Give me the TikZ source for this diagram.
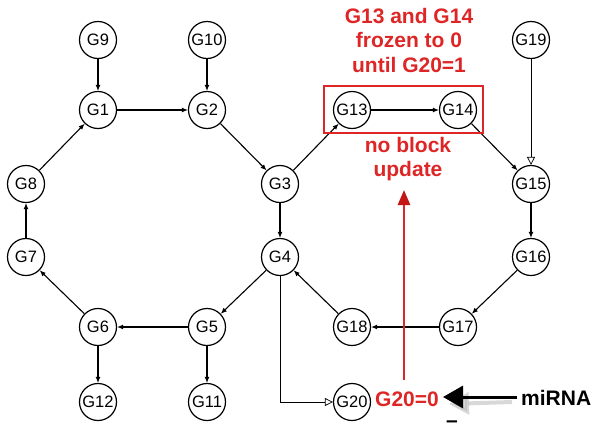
\documentclass[tikz,border=0pt]{standalone}
\usepackage{fontspec}
\setmainfont{Liberation Sans}
\usetikzlibrary{arrows.meta}
\definecolor{myred}{RGB}{222,38,38}
\definecolor{darkred}{RGB}{195,22,22}
\begin{document}
\begin{tikzpicture}[x=1pt,y=-1pt,
  gene/.style={circle,draw,line width=1.2pt,minimum size=37pt,inner sep=0pt,font=\fontsize{16.5}{17}\selectfont},
  act/.style={-{Latex[length=6pt,width=5pt]},line width=1.1pt},
  open/.style={-{Triangle[open,length=8pt,width=8pt]},line width=0.7pt},
  redtxt/.style={text=myred,font=\bfseries\fontsize{21}{24.5}\selectfont,align=center}]
\useasboundingbox (0,0) rectangle (595,429);
\node[gene] (G9) at (98,40) {G9};
\node[gene] (G10) at (207,40) {G10};
\node[gene] (G1) at (98,110) {G1};
\node[gene] (G2) at (207,110) {G2};
\node[gene] (G8) at (26,184) {G8};
\node[gene] (G3) at (280,184) {G3};
\node[gene] (G7) at (26,257) {G7};
\node[gene] (G4) at (280,257) {G4};
\node[gene] (G6) at (98,327) {G6};
\node[gene] (G5) at (207,327) {G5};
\node[gene] (G12) at (98,402) {G12};
\node[gene] (G11) at (207,402) {G11};
\node[gene] (G13) at (352,110) {G13};
\node[gene] (G14) at (458,110) {G14};
\node[gene] (G19) at (531,40) {G19};
\node[gene] (G15) at (531,184) {G15};
\node[gene] (G16) at (531,257) {G16};
\node[gene] (G17) at (458,327) {G17};
\node[gene] (G18) at (352,327) {G18};
\node[gene] (G20) at (352,402) {G20};
\draw[act] (G9) -- (G1);
\draw[act] (G10) -- (G2);
\draw[act] (G1) -- (G2);
\draw[act] (G2) -- (G3);
\draw[act] (G3) -- (G4);
\draw[act] (G3) -- (G13);
\draw[act] (G13) -- (G14);
\draw[act] (G14) -- (G15);
\draw[act] (G15) -- (G16);
\draw[act] (G16) -- (G17);
\draw[act] (G17) -- (G18);
\draw[act] (G18) -- (G4);
\draw[act] (G4) -- (G5);
\draw[act] (G5) -- (G6);
\draw[act] (G5) -- (G11);
\draw[act] (G6) -- (G12);
\draw[act] (G6) -- (G7);
\draw[act] (G7) -- (G8);
\draw[act] (G8) -- (G1);
\draw[open] (G19) -- (G15);
\draw[open] (G4.south) |- (G20.west);
% red annotations
\node[redtxt] (frozen) at (409,40) {G13 and G14\\frozen to 0\\until G20=1};
\node[draw=myred,line width=1.3pt,minimum width=159pt,minimum height=47pt,inner sep=0pt] (box) at (403.5,109.5) {};
\node[redtxt] (noblock) at (408,159) {no block\\update};
\node[text=myred,font=\bfseries\fontsize{21}{24}\selectfont,anchor=center] (G20eq) at (407,399) {G20=0};
\coordinate (redstart) at (404,380);
\coordinate (redtip) at (404,190);
\draw[myred,line width=2.6pt,-{Triangle[length=15pt,width=12pt,color=darkred]}] (redstart) -- (redtip);
% miRNA
\node[font=\bfseries\fontsize{21}{24}\selectfont,anchor=west,inner sep=0pt] (mirna) at (521,398) {miRNA};
\coordinate (mtip) at (443,397);
\draw[black!30,line width=4pt,-{Triangle[length=20pt,width=22pt]},opacity=0.5] (512,402) -- (449,404);
\draw[black,line width=3pt,-{Triangle[length=20pt,width=22pt]}] (517,397) -- (mtip);
\node[font=\bfseries\fontsize{21}{21}\selectfont,inner sep=0pt,anchor=base] (minus) at (452,427) {–};
\end{tikzpicture}
\end{document}
